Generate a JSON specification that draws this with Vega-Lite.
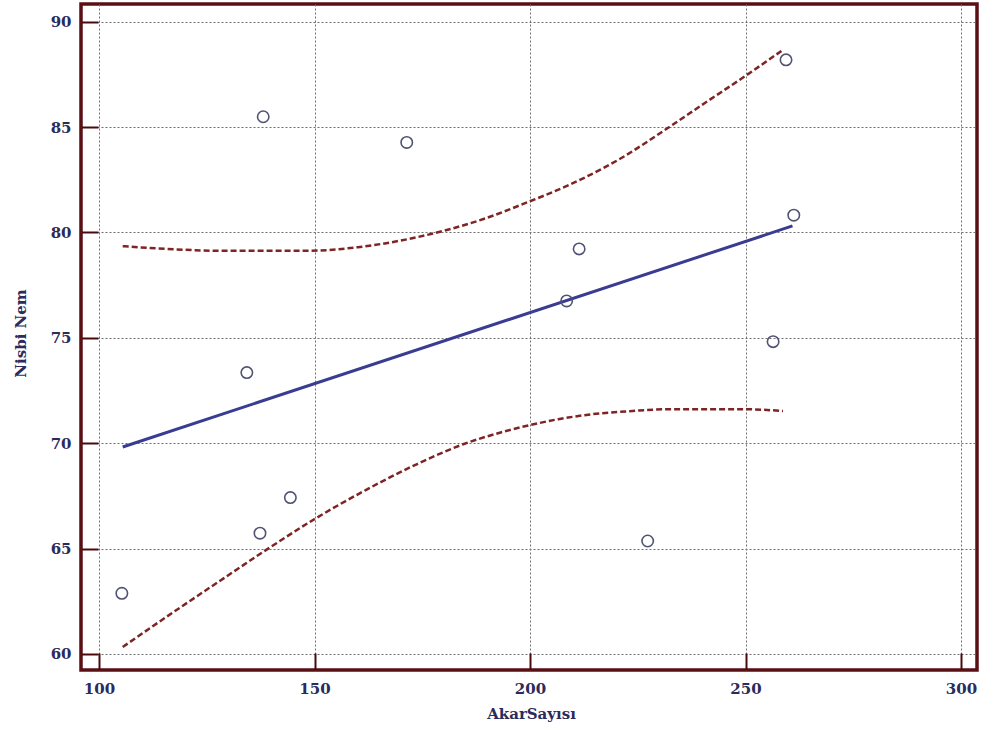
{
  "$schema": "https://vega.github.io/schema/vega-lite/v6.json",
  "width": 896,
  "height": 666,
  "autosize": {"type": "none"},
  "padding": {"left": 81, "top": 4, "right": 4, "bottom": 63},
  "background": "white",
  "config": {
    "view": {"stroke": "#5a0f14", "strokeWidth": 3.5},
    "axis": {
      "labelFont": "DejaVu Serif",
      "labelFontWeight": "bold",
      "labelFontSize": 15,
      "labelColor": "#2b2b5c",
      "titleFont": "DejaVu Serif",
      "titleFontWeight": "bold",
      "titleFontSize": 15,
      "titleColor": "#2b2b5c",
      "domain": false,
      "tickColor": "#4a0a0a",
      "tickWidth": 2,
      "tickSize": -17,
      "grid": true,
      "gridColor": "#6f6f6f",
      "gridDash": [2, 2],
      "gridWidth": 1
    }
  },
  "datasets": {
    "pts": [
      {"AkarSayisi": 105.3, "NisbiNem": 62.88},
      {"AkarSayisi": 134.3, "NisbiNem": 73.35},
      {"AkarSayisi": 137.35, "NisbiNem": 65.73},
      {"AkarSayisi": 138.1, "NisbiNem": 85.49},
      {"AkarSayisi": 144.4, "NisbiNem": 67.42},
      {"AkarSayisi": 171.4, "NisbiNem": 84.27},
      {"AkarSayisi": 208.5, "NisbiNem": 76.75},
      {"AkarSayisi": 211.4, "NisbiNem": 79.22},
      {"AkarSayisi": 227.3, "NisbiNem": 65.36},
      {"AkarSayisi": 256.4, "NisbiNem": 74.82},
      {"AkarSayisi": 259.4, "NisbiNem": 88.19},
      {"AkarSayisi": 261.2, "NisbiNem": 80.82}
    ],
    "fit": [
      {"AkarSayisi": 105.5, "NisbiNem": 69.82},
      {"AkarSayisi": 260.9, "NisbiNem": 80.31}
    ],
    "bands": [
      {"band": "upper", "AkarSayisi": 105.5, "NisbiNem": 79.35},
      {"band": "upper", "AkarSayisi": 117.5, "NisbiNem": 79.2},
      {"band": "upper", "AkarSayisi": 129.1, "NisbiNem": 79.13},
      {"band": "upper", "AkarSayisi": 148.4, "NisbiNem": 79.13},
      {"band": "upper", "AkarSayisi": 160.0, "NisbiNem": 79.3},
      {"band": "upper", "AkarSayisi": 171.6, "NisbiNem": 79.68},
      {"band": "upper", "AkarSayisi": 180.0, "NisbiNem": 80.08},
      {"band": "upper", "AkarSayisi": 189.4, "NisbiNem": 80.65},
      {"band": "upper", "AkarSayisi": 199.0, "NisbiNem": 81.4},
      {"band": "upper", "AkarSayisi": 209.0, "NisbiNem": 82.25},
      {"band": "upper", "AkarSayisi": 216.5, "NisbiNem": 83.0},
      {"band": "upper", "AkarSayisi": 221.1, "NisbiNem": 83.52},
      {"band": "upper", "AkarSayisi": 231.2, "NisbiNem": 84.85},
      {"band": "upper", "AkarSayisi": 240.4, "NisbiNem": 86.12},
      {"band": "upper", "AkarSayisi": 250.5, "NisbiNem": 87.5},
      {"band": "upper", "AkarSayisi": 258.8, "NisbiNem": 88.68},
      {"band": "lower", "AkarSayisi": 105.5, "NisbiNem": 60.33},
      {"band": "lower", "AkarSayisi": 117.0, "NisbiNem": 61.95},
      {"band": "lower", "AkarSayisi": 129.0, "NisbiNem": 63.6},
      {"band": "lower", "AkarSayisi": 140.0, "NisbiNem": 65.1},
      {"band": "lower", "AkarSayisi": 150.0, "NisbiNem": 66.4},
      {"band": "lower", "AkarSayisi": 162.1, "NisbiNem": 67.8},
      {"band": "lower", "AkarSayisi": 173.7, "NisbiNem": 69.0},
      {"band": "lower", "AkarSayisi": 184.5, "NisbiNem": 69.95},
      {"band": "lower", "AkarSayisi": 193.0, "NisbiNem": 70.5},
      {"band": "lower", "AkarSayisi": 200.2, "NisbiNem": 70.87},
      {"band": "lower", "AkarSayisi": 206.6, "NisbiNem": 71.14},
      {"band": "lower", "AkarSayisi": 212.2, "NisbiNem": 71.32},
      {"band": "lower", "AkarSayisi": 223.8, "NisbiNem": 71.53},
      {"band": "lower", "AkarSayisi": 231.6, "NisbiNem": 71.61},
      {"band": "lower", "AkarSayisi": 250.0, "NisbiNem": 71.61},
      {"band": "lower", "AkarSayisi": 258.7, "NisbiNem": 71.53}
    ]
  },
  "encoding": {
    "x": {
      "field": "AkarSayisi",
      "type": "quantitative",
      "scale": {"domain": [95.824, 303.71], "nice": false, "zero": false},
      "axis": {
        "title": "AkarSayısı",
        "values": [100, 150, 200, 250, 300],
        "labelPadding": 28,
        "titleX": 450,
        "titleY": 43,
        "titleBaseline": "middle"
      }
    },
    "y": {
      "field": "NisbiNem",
      "type": "quantitative",
      "scale": {"domain": [59.24, 90.84], "nice": false, "zero": false},
      "axis": {
        "title": "Nisbi Nem",
        "values": [60, 65, 70, 75, 80, 85, 90],
        "labelPadding": 27,
        "titleX": -61,
        "titleY": 329,
        "titleBaseline": "middle"
      }
    }
  },
  "layer": [
    {
      "data": {"name": "bands"},
      "mark": {"type": "line", "color": "#7e2424", "strokeWidth": 2.5, "strokeDash": [6, 3], "interpolate": "monotone"},
      "encoding": {"detail": {"field": "band"}}
    },
    {
      "data": {"name": "fit"},
      "mark": {"type": "line", "color": "#3a3c92", "strokeWidth": 3},
      "encoding": {}
    },
    {
      "data": {"name": "pts"},
      "mark": {"type": "point", "shape": "circle", "filled": false, "size": 130, "stroke": "#505373", "strokeWidth": 1.6, "opacity": 1},
      "encoding": {}
    }
  ]
}
